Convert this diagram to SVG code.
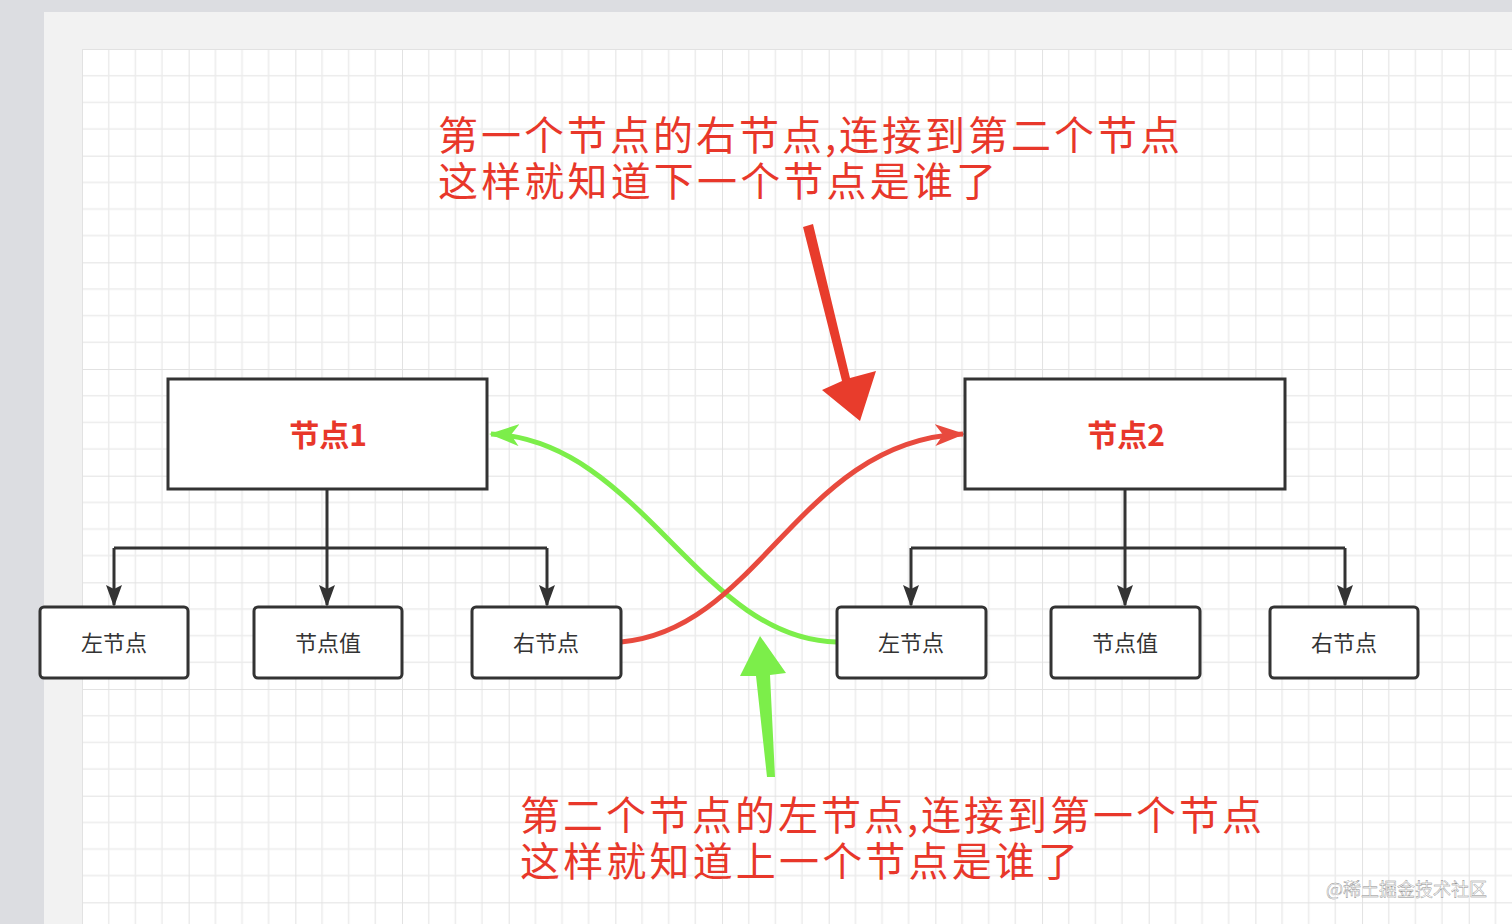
<svg xmlns="http://www.w3.org/2000/svg" width="1512" height="924" viewBox="0 0 1512 924">
<style>
.box{fill:#fff;stroke:#333;stroke-width:3}
.sm{fill:#fff;stroke:#333;stroke-width:3}
.lbl{font-family:"Noto Sans CJK SC","Noto Sans",sans-serif;font-size:22px;fill:#333;text-anchor:middle}
.big{font-family:"Noto Sans CJK SC","Noto Sans",sans-serif;font-size:30px;font-weight:bold;fill:#e8372a;text-anchor:middle}
.note{font-family:"Noto Sans CJK SC",sans-serif;font-size:40px;fill:#e8372a}
.ln{fill:none;stroke:#333;stroke-width:3}
</style>
<defs>
<pattern id="g" x="82" y="49" width="106.67" height="106.67" patternUnits="userSpaceOnUse">
<rect width="106.67" height="106.67" fill="#fff"/>
<path d="M26.67 0V106.67M53.33 0V106.67M80 0V106.67M0 26.67H106.67M0 53.33H106.67M0 80H106.67" stroke="#ececec" stroke-width="1.5"/>
<path d="M0 0V106.67M0 0H106.67" stroke="#e2e2e2" stroke-width="2"/>
</pattern>
<marker id="ak" markerWidth="22" markerHeight="16" refX="20" refY="8" orient="auto" markerUnits="userSpaceOnUse" viewBox="0 0 22 16"><path d="M0 0L22 8L0 16L4 8Z" fill="#333"/></marker>
<marker id="ar" markerWidth="30" markerHeight="22" refX="28" refY="11" orient="auto" markerUnits="userSpaceOnUse"><path d="M0 0L30 11L0 22L8 11Z" fill="#e84a3e"/></marker>
<marker id="ag" markerWidth="30" markerHeight="22" refX="28" refY="11" orient="auto" markerUnits="userSpaceOnUse"><path d="M0 0L30 11L0 22L8 11Z" fill="#7cee4a"/></marker>
</defs>
<rect width="1512" height="924" fill="#dcdde1"/>
<rect x="44" y="12" width="1468" height="912" fill="#f2f2f2"/>
<rect x="82" y="49" width="1430" height="875" fill="url(#g)"/>
<g id="connectors">
<path class="ln" d="M327 489V548M114 548H547"/>
<path class="ln" d="M114 548V605" marker-end="url(#ak)"/>
<path class="ln" d="M327 548V605" marker-end="url(#ak)"/>
<path class="ln" d="M547 548V605" marker-end="url(#ak)"/>
<path class="ln" d="M1125 489V548M911 548H1345"/>
<path class="ln" d="M911 548V605" marker-end="url(#ak)"/>
<path class="ln" d="M1125 548V605" marker-end="url(#ak)"/>
<path class="ln" d="M1345 548V605" marker-end="url(#ak)"/>
<path d="M837 642C700 640 640 440 491 434" fill="none" stroke="#7cee4a" stroke-width="5" marker-end="url(#ag)"/>
<path d="M621 642C760 630 800 440 963 434" fill="none" stroke="#e84a3e" stroke-width="5" marker-end="url(#ar)"/>
<polygon points="803,227 813,224 850,378 876,371 860,421 822,390 842,381" fill="#e83c2c"/>
<polygon points="767,777 775,777 770,675 786,673 760,636 740,676 756,676" fill="#7cee4a"/>
</g>
<g id="n1"><rect class="box" x="168" y="379" width="319" height="110"/><text class="big" x="328" y="446">节点1</text></g>
<g id="n2"><rect class="box" x="965" y="379" width="320" height="110"/><text class="big" x="1126" y="446">节点2</text></g>
<g id="a1"><rect class="sm" x="40" y="607" width="148" height="71" rx="4"/><text class="lbl" x="114" y="651">左节点</text></g>
<g id="a2"><rect class="sm" x="254" y="607" width="148" height="71" rx="4"/><text class="lbl" x="328" y="651">节点值</text></g>
<g id="a3"><rect class="sm" x="472" y="607" width="149" height="71" rx="4"/><text class="lbl" x="546" y="651">右节点</text></g>
<g id="b1"><rect class="sm" x="837" y="607" width="149" height="71" rx="4"/><text class="lbl" x="911" y="651">左节点</text></g>
<g id="b2"><rect class="sm" x="1051" y="607" width="149" height="71" rx="4"/><text class="lbl" x="1125" y="651">节点值</text></g>
<g id="b3"><rect class="sm" x="1270" y="607" width="148" height="71" rx="4"/><text class="lbl" x="1344" y="651">右节点</text></g>
<g id="notes">
<text class="note" x="438" y="150" textLength="742">第一个节点的右节点,连接到第二个节点</text>
<text class="note" x="438" y="196" textLength="558">这样就知道下一个节点是谁了</text>
<text class="note" x="520" y="830" textLength="742">第二个节点的左节点,连接到第一个节点</text>
<text class="note" x="520" y="876" textLength="558">这样就知道上一个节点是谁了</text>
<text x="1487" y="896" font-family="Noto Sans CJK SC,sans-serif" font-size="18" fill="#ffffff" stroke="#888" stroke-width="0.4" text-anchor="end">@稀土掘金技术社区</text>
</g>
</svg>
